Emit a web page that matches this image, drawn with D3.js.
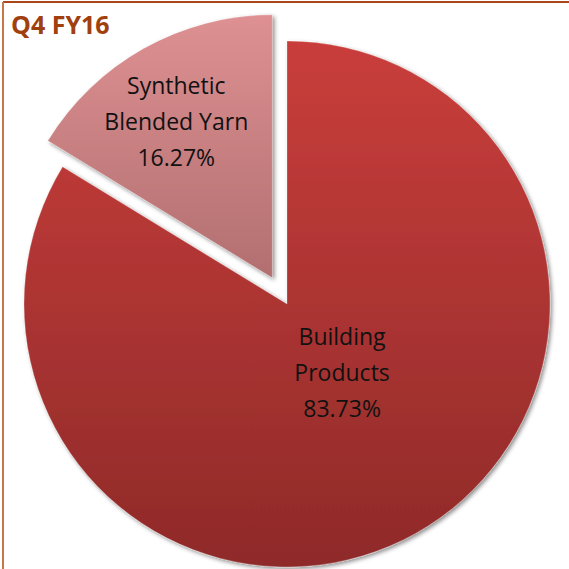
<!DOCTYPE html>
<html>
<head>
<meta charset="utf-8">
<script src="https://cdn.jsdelivr.net/npm/d3@7"></script>
<style>
  body { margin: 0; background: #fff; }
  svg { display: block; }
  .lbl { font-family: "Open Sans", sans-serif; font-size: 23px; fill: #111; }
  .title { font-family: "Open Sans", sans-serif; font-weight: bold; font-size: 25px; fill: #a0400f; }
</style>
</head>
<body>
<div id="chart"></div>
<script>
// segments of the quarter
const categories = ["Building Products", "Synthetic Blended Yarn"];
const shares = [83.73, 16.27];
const labelLines = [["Building", "Products", "83.73%"], ["Synthetic", "Blended Yarn", "16.27%"]];

const W = 569, H = 569;
const cx = 287, cy = 304, radius = 263;

const svg = d3.select("#chart").append("svg")
    .attr("width", W)
    .attr("height", H);

// gradients + bevel shadow
let defs = svg.append("defs");
let gradStops = [["#c93e3b", "#8f2a29"], ["#e39496", "#b26f70"]];
gradStops.forEach((g, i) => {
    let lg = defs.append("linearGradient")
        .attr("id", "grad" + i)
        .attr("gradientUnits", "userSpaceOnUse")
        .attr("x1", 0).attr("y1", i === 0 ? -radius : -radius - 30)
        .attr("x2", 0).attr("y2", i === 0 ? radius : 0);
    lg.append("stop").attr("offset", "0%").attr("stop-color", g[0]);
    lg.append("stop").attr("offset", "100%").attr("stop-color", g[1]);
});
let f = defs.append("filter").attr("id", "shadow")
    .attr("x", "-10%").attr("y", "-10%").attr("width", "120%").attr("height", "120%");
f.append("feDropShadow")
    .attr("dx", 2).attr("dy", 2)
    .attr("stdDeviation", 2)
    .attr("flood-color", "#000")
    .attr("flood-opacity", 0.45);

// frame (top + left edges visible)
svg.append("line").attr("x1", 3).attr("y1", 2).attr("x2", W).attr("y2", 2)
    .attr("stroke", "#a9461c").attr("stroke-width", 2);
svg.append("line").attr("x1", 3).attr("y1", 2).attr("x2", 3).attr("y2", H)
    .attr("stroke", "#c5764a").attr("stroke-width", 2);

svg.append("text")
    .attr("class", "title")
    .attr("x", 11)
    .attr("y", 34)
    .text("Q4 FY16");

const pie = d3.pie().sort(null).value(d => d);
const arcs = pie(shares);
const arc = d3.arc().innerRadius(0).outerRadius(radius);

const explode = [0, 30];
const labelR = [84, 182];
const nudge = [[14, -4], [-7, 3]];

let g = svg.append("g").attr("transform", `translate(${cx},${cy})`);

let slices = g.selectAll(".slice")
    .data(arcs)
    .enter().append("g")
    .attr("class", "slice")
    .attr("transform", (d, i) => {
        let a = (d.startAngle + d.endAngle) / 2;
        return `translate(${Math.sin(a) * explode[i]},${-Math.cos(a) * explode[i]})`;
    });

slices.append("path")
    .attr("d", arc)
    .attr("fill", (d, i) => `url(#grad${i})`)
    .attr("stroke", "rgba(255,255,255,0.25)")
    .attr("stroke-width", 1)
    .attr("filter", "url(#shadow)");

slices.each(function(d, i) {
    let a = (d.startAngle + d.endAngle) / 2;
    let lx = Math.sin(a) * labelR[i] + nudge[i][0], ly = -Math.cos(a) * labelR[i] + nudge[i][1];
    let t = d3.select(this).append("text")
        .attr("class", "lbl")
        .attr("text-anchor", "middle");
    labelLines[i].forEach((s, k) => {
        t.append("tspan")
            .attr("x", lx)
            .attr("y", ly + (k - 1) * 36 + 8)
            .text(s);
    });
});
</script>
</body>
</html>
